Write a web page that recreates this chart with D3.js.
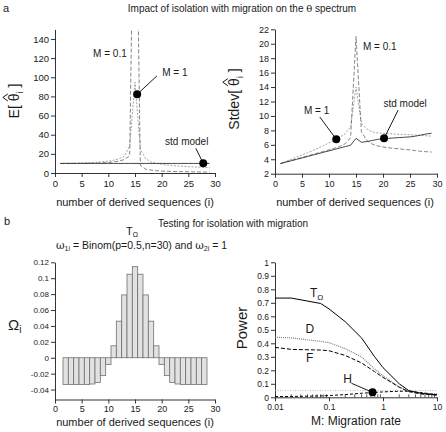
<!DOCTYPE html>
<html><head><meta charset="utf-8">
<script src="https://cdn.jsdelivr.net/npm/d3@7"></script>
<style>
body{margin:0;background:#fff}
svg{display:block}
text{font-family:"Liberation Sans",Arial,Helvetica,sans-serif;fill:#1a1a1a}
</style></head>
<body><svg id="c" width="446" height="432"></svg>
<script>
// ---------- DATA ----------
const seqI = [1,2,3,4,5,6,7,8,9,10,11,12,13,14,15,16,17,18,19,20,21,22,23,24,25,26,27,28,29];
const xTicks = [0,5,10,15,20,25,30];

// Panel a-left: E[theta_i]
const eStd = [10,10,10,10,10,10,10,10,10,10,10,10,10,10,10,10,10,10,10,10,10,10,10,10,10,10,10,10,10];
const eM01 = [10,10,10,10,10,10.1,10.2,10.4,10.6,11,11.5,12.5,14,18,400,8,4,3,2.4,2,1.8,1.6,1.5,1.4,1.3,1.2,1.1,1.0,1.0];
const eM1  = [10,10.1,10.2,10.3,10.5,10.7,11,11.3,11.8,12.4,13.3,14.8,17.5,28,95,25,15,11.5,10,9,8.3,7.8,7.4,7,6.7,6.4,6.1,5.8,5.5];
const eTicks = [0,20,40,60,80,100,120,140];

// Panel a-right: Stdev[theta_i]
const sStd = [3.40,3.60,3.79,3.99,4.18,4.38,4.58,4.77,4.97,5.16,5.36,5.56,5.75,5.95,6.9,6.35,6.45,6.6,6.75,6.85,6.9,6.95,7.0,7.05,7.1,7.2,7.35,7.5,7.6];
const sM01 = [3.40,3.62,3.83,4.04,4.25,4.46,4.67,4.88,5.09,5.30,5.52,5.78,6.15,7.0,21,7.8,6.6,6.1,5.85,5.7,5.6,5.5,5.45,5.35,5.3,5.2,5.1,5.05,5.0];
const sM1  = [3.40,3.70,4.00,4.30,4.60,4.90,5.20,5.55,5.90,6.25,6.65,7.05,7.55,8.5,14,9.0,8.2,7.8,7.65,7.6,7.55,7.5,7.45,7.45,7.4,7.35,7.3,7.25,7.2];
const sTicks = [2,4,6,8,10,12,14,16,18,20,22];

// Panel b-left: Omega_i
const omegaI = [2,3,4,5,6,7,8,9,10,11,12,13,14,15,16,17,18,19,20,21,22,23,24,25,26,27,28];
const omegaV = [-0.0335,-0.0335,-0.0335,-0.0335,-0.0335,-0.033,-0.031,-0.0225,-0.0085,0.015,0.046,0.079,0.105,0.1145,0.105,0.079,0.046,0.015,-0.0085,-0.0225,-0.031,-0.033,-0.0335,-0.0335,-0.0335,-0.0335,-0.0335];
const omegaTicks = [-0.04,-0.02,0,0.02,0.04,0.06,0.08,0.1,0.12];

// Panel b-right: Power vs migration rate
const migM   = [0.01,0.02,0.07,0.1,0.2,0.4,0.7,1,2,3,5,10];
const powT   = [0.735,0.735,0.695,0.655,0.56,0.44,0.30,0.22,0.10,0.05,0.03,0.017];
const powD   = [0.445,0.44,0.415,0.405,0.36,0.30,0.21,0.16,0.075,0.045,0.03,0.025];
const powF   = [0.37,0.355,0.35,0.345,0.31,0.255,0.19,0.148,0.075,0.042,0.025,0.017];
const powH   = [0.005,0.006,0.01,0.013,0.02,0.03,0.036,0.04,0.045,0.045,0.035,0.02];
const sigLevel = [0.05,0.05];
const sigM = [0.01,10];
const powTicks = [0,0.1,0.2,0.3,0.4,0.5,0.6,0.7,0.8,0.9,1];
const migTicks = [0.01,0.1,1,10];

// ---------- DRAWING ----------
const FONT = '"Liberation Sans",Arial,Helvetica,sans-serif';
const svg = d3.select('#c');
const zip = (xs, ys) => xs.map((x,k)=>[x, ys[k]]);

function styleAxis(g, fs){
  g.selectAll('path.domain').attr('stroke','#333').attr('stroke-width',1);
  g.selectAll('.tick line').attr('stroke','#333');
  g.selectAll('.tick text').attr('font-size',fs).attr('fill','#222').attr('font-family',FONT);
}
function hatLabel(x, y, prefix, fs){
  const grp = svg.append('g').attr('transform',`translate(${x},${y}) rotate(-90)`);
  const t = grp.append('text').attr('font-size',fs).attr('text-anchor','middle');
  t.append('tspan').text(prefix + '[ ');
  t.append('tspan').text('θ');
  t.append('tspan').attr('font-size',fs*0.7).attr('dy',fs*0.3).text('i');
  t.append('tspan').attr('dy',-fs*0.3).text(' ]');
  const node = t.node();
  const idx = prefix.length + 2;
  const ext = node.getExtentOfChar(idx);
  const cx = ext.x + ext.width/2;
  const y0 = -fs*0.8;
  grp.append('path').attr('d',`M${cx-3.5},${y0} L${cx},${y0-5} L${cx+3.5},${y0}`)
    .attr('fill','none').attr('stroke','#1a1a1a').attr('stroke-width',1);
}
function dot(x,y){ svg.append('circle').attr('cx',x).attr('cy',y).attr('r',4).attr('fill','#000'); }
function leader(x1,y1,x2,y2){ svg.append('line').attr('x1',x1).attr('y1',y1).attr('x2',x2).attr('y2',y2).attr('stroke','#000').attr('stroke-width',0.9); }
function label(x,y,txt,fs,anchor){ return svg.append('text').attr('x',x).attr('y',y).attr('font-size',fs).attr('text-anchor',anchor||'start').text(txt); }

// Titles
label(3,12,'a',11);
const t1 = svg.append('text').attr('x',242).attr('y',12).attr('font-size',10).attr('text-anchor','middle');
t1.append('tspan').text('Impact of isolation with migration on the ');
t1.append('tspan').attr('font-family','"DejaVu Serif",serif').text('θ');
t1.append('tspan').text(' spectrum');
label(4,225,'b',11);
label(233,227,'Testing for isolation with migration',10,'middle');

// ===== Panel a-left =====
{
  const x = d3.scaleLinear().domain([0,30]).range([55,215]);
  const y = d3.scaleLinear().domain([0,150]).range([173,29.4]);
  svg.append('clipPath').attr('id','clipA').append('rect').attr('x',55).attr('y',29.4).attr('width',162).attr('height',144);
  const gx = svg.append('g').attr('transform','translate(0,173)')
    .call(d3.axisBottom(x).tickValues(xTicks).tickSize(4).tickPadding(3).tickSizeOuter(0));
  styleAxis(gx,9.5);
  const gy = svg.append('g').attr('transform','translate(55,0)')
    .call(d3.axisLeft(y).tickValues(eTicks).tickSize(4).tickPadding(2).tickSizeOuter(0));
  styleAxis(gy,9.5);
  const line = d3.line().x(d=>x(d[0])).y(d=>y(d[1]));
  const pg = svg.append('g').attr('clip-path','url(#clipA)');
  pg.append('path').attr('d',line(zip(seqI,eM1))).attr('fill','none').attr('stroke','#999').attr('stroke-width',0.9).attr('stroke-dasharray','2,1.5');
  pg.append('path').attr('d',line(zip(seqI,eM01))).attr('fill','none').attr('stroke','#777').attr('stroke-width',0.9).attr('stroke-dasharray','4,2');
  pg.append('path').attr('d',line(zip(seqI,eStd))).attr('fill','none').attr('stroke','#333').attr('stroke-width',0.9);
  label(x(10.3),y(125.7)+4,'M = 0.1',10,'middle');
  label(x(20.1),y(105.8)+4,'M = 1',10,'start');
  leader(x(19.1),y(101.4),x(15.4),y(82.2)); dot(x(15.4),y(82.2));
  label(x(24.7),y(33)+4,'std model',10,'middle');
  leader(x(26.4),y(25.8),x(27.8),y(10.1)); dot(x(27.8),y(10.1));
  label(135,205.5,'number of derived sequences (i)',11,'middle');
  hatLabel(19,101,'E',14);
}

// ===== Panel a-right =====
{
  const x = d3.scaleLinear().domain([0,30]).range([275,437]);
  const y = d3.scaleLinear().domain([2,22]).range([173.7,29.3]);
  svg.append('clipPath').attr('id','clipB').append('rect').attr('x',275).attr('y',29).attr('width',164).attr('height',145);
  const gx = svg.append('g').attr('transform','translate(0,173.7)')
    .call(d3.axisBottom(x).tickValues(xTicks).tickSize(4).tickPadding(3).tickSizeOuter(0));
  styleAxis(gx,9);
  const gy = svg.append('g').attr('transform','translate(275,0)')
    .call(d3.axisLeft(y).tickValues(sTicks).tickSize(4).tickPadding(2).tickSizeOuter(0));
  styleAxis(gy,9);
  const line = d3.line().x(d=>x(d[0])).y(d=>y(d[1]));
  const pg = svg.append('g').attr('clip-path','url(#clipB)');
  pg.append('path').attr('d',line(zip(seqI,sM1))).attr('fill','none').attr('stroke','#999').attr('stroke-width',0.9).attr('stroke-dasharray','2,1.5');
  pg.append('path').attr('d',line(zip(seqI,sM01))).attr('fill','none').attr('stroke','#777').attr('stroke-width',0.9).attr('stroke-dasharray','4,2');
  pg.append('path').attr('d',line(zip(seqI,sStd))).attr('fill','none').attr('stroke','#333').attr('stroke-width',0.9);
  label(x(16.3),y(19.7)+4,'M = 0.1',10,'start');
  label(x(7.7),y(10.8)+4,'M = 1',10,'middle');
  leader(x(8.3),y(9.85),x(11.35),y(6.76)); dot(x(11.35),y(6.76));
  label(x(24.1),y(11.8)+4,'std model',10,'middle');
  leader(x(22.8),y(10.8),x(20.2),y(6.9)); dot(x(20.2),y(6.9));
  label(355,205.5,'number of derived sequences (i)',11,'middle');
  hatLabel(239,99,'Stdev',14);
}

// ===== Panel b-left =====
{
  const x = d3.scaleLinear().domain([0,30]).range([55,215]);
  const y = d3.scaleLinear().domain([-0.0525,0.12]).range([399.5,262.3]);
  const bars = svg.append('g');
  bars.selectAll('rect').data(zip(omegaI,omegaV)).join('rect')
    .attr('x',d=>x(d[0]-0.5)).attr('width',d=>x(d[0]+0.5)-x(d[0]-0.5))
    .attr('y',d=>y(Math.max(0,d[1]))).attr('height',d=>Math.abs(y(d[1])-y(0)))
    .attr('fill','#e2e2e2').attr('stroke','#707070').attr('stroke-width',0.8);
  const gx = svg.append('g').attr('transform','translate(0,399.5)')
    .call(d3.axisBottom(x).tickValues(xTicks).tickSize(4).tickPadding(2).tickSizeOuter(0));
  styleAxis(gx,9);
  const gy = svg.append('g').attr('transform','translate(55,0)')
    .call(d3.axisLeft(y).tickValues(omegaTicks).tickSize(4).tickPadding(2).tickSizeOuter(0)
      .tickFormat(d=> d===0 ? '0' : String(+d.toFixed(2))));
  styleAxis(gy,8);
  const tt = svg.append('text').attr('x',132).attr('y',235).attr('font-size',11).attr('text-anchor','middle');
  tt.append('tspan').text('T');
  tt.append('tspan').attr('font-size',7).attr('dy',1.5).text('Ω');
  const wt = svg.append('text').attr('x',141.5).attr('y',248.5).attr('font-size',10.5).attr('text-anchor','middle');
  wt.append('tspan').attr('font-family','"DejaVu Serif",serif').text('ω');
  wt.append('tspan').attr('font-size',7).attr('dy',2).text('1i');
  wt.append('tspan').attr('dy',-2).text(' = Binom(p=0.5,n=30) and ');
  wt.append('tspan').attr('font-family','"DejaVu Serif",serif').text('ω');
  wt.append('tspan').attr('font-size',7).attr('dy',2).text('2i');
  wt.append('tspan').attr('dy',-2).text(' = 1');
  const ol = svg.append('text').attr('x',8).attr('y',330).attr('font-size',15);
  ol.append('tspan').text('Ω');
  ol.append('tspan').attr('font-size',10).attr('dy',3).text('i');
  label(135,426,'number of derived sequences (i)',11,'middle');
}

// ===== Panel b-right =====
{
  const x = d3.scaleLog().domain([0.01,10]).range([275,437]);
  const y = d3.scaleLinear().domain([0,1]).range([397.3,262.3]);
  const gx = svg.append('g').attr('transform','translate(0,397.3)')
    .call(d3.axisBottom(x).tickValues(migTicks).tickSize(4).tickPadding(3).tickSizeOuter(0)
      .tickFormat(d=>String(d)));
  styleAxis(gx,8.5);
  const minor = [];
  [0.01,0.1,1].forEach(dec=>{ [2,3,4,5,6,7,8,9].forEach(m=>minor.push(dec*m)); });
  svg.append('g').selectAll('line').data(minor).join('line')
    .attr('x1',d=>x(d)).attr('x2',d=>x(d)).attr('y1',397.3).attr('y2',394.3)
    .attr('stroke','#333').attr('stroke-width',0.8);
  const gy = svg.append('g').attr('transform','translate(275,0)')
    .call(d3.axisLeft(y).tickValues(powTicks).tickSize(4).tickPadding(2).tickSizeOuter(0)
      .tickFormat(d=>String(+d.toFixed(1))));
  styleAxis(gy,8.5);
  const line = d3.line().x(d=>x(d[0])).y(d=>y(d[1]));
  svg.append('path').attr('d',line(zip(sigM,sigLevel))).attr('fill','none').attr('stroke','#aaa').attr('stroke-width',0.8).attr('stroke-dasharray','1,1.5');
  svg.append('path').attr('d',line(zip(migM,powH))).attr('fill','none').attr('stroke','#000').attr('stroke-width',1).attr('stroke-dasharray','3,2');
  svg.append('path').attr('d',line(zip(migM,powD))).attr('fill','none').attr('stroke','#777').attr('stroke-width',1.1).attr('stroke-dasharray','1,1');
  svg.append('path').attr('d',line(zip(migM,powF))).attr('fill','none').attr('stroke','#000').attr('stroke-width',1).attr('stroke-dasharray','4,2');
  svg.append('path').attr('d',line(zip(migM,powT))).attr('fill','none').attr('stroke','#000').attr('stroke-width',1);
  const tl = svg.append('text').attr('x',x(0.059)).attr('y',y(0.77)+4).attr('font-size',12).attr('text-anchor','middle');
  tl.append('tspan').text('T');
  tl.append('tspan').attr('font-size',8).attr('dy',2.5).text('Ω');
  label(x(0.044),y(0.506)+4,'D',12,'middle');
  label(x(0.044),y(0.289)+4,'F',12,'middle');
  label(x(0.22),y(0.133)+4,'H',12,'middle');
  leader(x(0.26),y(0.104),x(0.64),y(0.037)); dot(x(0.64),y(0.037));
  label(356,425,'M: Migration rate',12,'middle');
  const pw = svg.append('g').attr('transform','translate(247,328) rotate(-90)');
  pw.append('text').attr('font-size',15).attr('text-anchor','middle').text('Power');
}
</script></body></html>
